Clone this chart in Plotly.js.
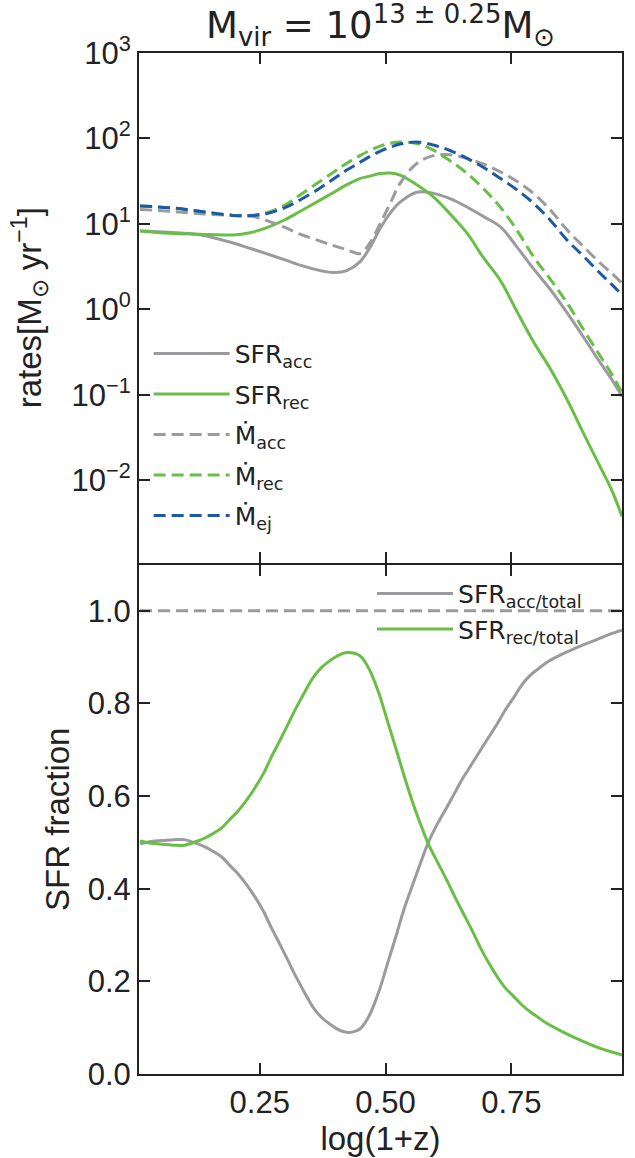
<!DOCTYPE html>
<html>
<head>
<meta charset="utf-8">
<script src="https://cdn.plot.ly/plotly-3.0.1.min.js"></script>
<style>html,body{margin:0;padding:0;background:#fff;}#chart{width:635px;height:1158px;}</style>
</head>
<body>
<div id="chart"></div>
<script>
// ---- data ----
const xRates = [0.012, 0.07, 0.13, 0.197, 0.23, 0.263, 0.30, 0.33, 0.37, 0.40, 0.423, 0.449, 0.469, 0.489, 0.51, 0.529, 0.562, 0.595, 0.628, 0.662, 0.695, 0.728, 0.761, 0.794, 0.828, 0.861, 0.894, 0.927, 0.95, 0.97];
const sfrAcc = [8.3, 8.0, 7.5, 6.0, 5.2, 4.5, 3.8, 3.3, 2.85, 2.7, 2.85, 3.6, 5.3, 8.8, 13.6, 18, 23.5, 22.8, 19.8, 15.8, 12.2, 9.3, 5.4, 3.0, 1.7, 0.91, 0.47, 0.237, 0.151, 0.096];
const sfrRec = [8.3, 7.8, 7.6, 7.45, 7.9, 9.0, 11.2, 14.0, 19.0, 24.0, 28.8, 34.0, 36.3, 38.9, 39.4, 37.3, 28.8, 20.8, 13.2, 7.8, 4.0, 2.2, 0.95, 0.42, 0.2, 0.088, 0.035, 0.0143, 0.0076, 0.0038];
const mdotAcc = [14.8, 14.1, 13.2, 12.6, 12.5, 11.0, 9.1, 7.6, 6.3, 5.5, 5.0, 4.5, 6.0, 10.0, 17.8, 29.9, 51, 63, 64.5, 58.5, 50, 40.8, 31.6, 22.8, 14.5, 8.5, 5.4, 3.47, 2.63, 2.03];
const mdotRec = [16.2, 15.5, 14.1, 12.6, 12.5, 13.5, 16.6, 21.8, 31.6, 41.7, 51.3, 63, 72.4, 81.3, 88, 91, 87.5, 73, 55, 39.1, 25.7, 15.8, 8.5, 4.15, 2.24, 1.19, 0.575, 0.283, 0.174, 0.106];
const mdotEj = [16.2, 15.5, 14.1, 12.6, 12.5, 13.2, 15.5, 19.1, 26.3, 34.7, 42.7, 52.5, 61.7, 70.8, 79.4, 86, 91.2, 83.8, 72.4, 58.5, 45.7, 34.2, 25.1, 17.5, 11.0, 6.46, 4.17, 2.63, 1.95, 1.48];

const xFrac = [0.012, 0.035, 0.057, 0.08, 0.10, 0.124, 0.14, 0.157, 0.175, 0.19, 0.207, 0.223, 0.24, 0.257, 0.273, 0.29, 0.307, 0.323, 0.34, 0.356, 0.373, 0.389, 0.406, 0.423, 0.436, 0.449, 0.459, 0.469, 0.479, 0.489, 0.505, 0.522, 0.538, 0.555, 0.57, 0.585, 0.603, 0.622, 0.638, 0.655, 0.672, 0.688, 0.705, 0.722, 0.738, 0.755, 0.771, 0.788, 0.805, 0.821, 0.854, 0.887, 0.92, 0.945, 0.97];
const fracAcc = [0.497, 0.502, 0.504, 0.506, 0.506, 0.498, 0.491, 0.481, 0.468, 0.451, 0.432, 0.410, 0.383, 0.352, 0.316, 0.280, 0.243, 0.208, 0.174, 0.144, 0.122, 0.108, 0.096, 0.090, 0.091, 0.097, 0.110, 0.129, 0.155, 0.185, 0.242, 0.302, 0.360, 0.412, 0.457, 0.500, 0.540, 0.576, 0.608, 0.641, 0.670, 0.698, 0.727, 0.756, 0.786, 0.813, 0.840, 0.861, 0.876, 0.889, 0.908, 0.924, 0.938, 0.949, 0.958];
const fracRec = [0.503, 0.498, 0.496, 0.494, 0.494, 0.502, 0.509, 0.519, 0.532, 0.549, 0.568, 0.590, 0.617, 0.648, 0.684, 0.720, 0.757, 0.792, 0.826, 0.856, 0.878, 0.892, 0.904, 0.910, 0.909, 0.903, 0.890, 0.871, 0.845, 0.815, 0.758, 0.698, 0.640, 0.583, 0.538, 0.497, 0.458, 0.418, 0.382, 0.346, 0.310, 0.274, 0.240, 0.210, 0.186, 0.167, 0.149, 0.134, 0.121, 0.109, 0.090, 0.073, 0.058, 0.049, 0.041];
const xTotal = [0.012, 0.97];
const fracTotal = [1.0, 1.0];

const yTickVals = [0.01, 0.1, 1, 10, 100, 1000];
const yTickText = ['10<sup>−2</sup>', '10<sup>−1</sup>', '10<sup>0</sup>', '10<sup>1</sup>', '10<sup>2</sup>', '10<sup>3</sup>'];
const fTickVals = [0, 0.2, 0.4, 0.6, 0.8, 1.0];
const fTickText = ['0.0', '0.2', '0.4', '0.6', '0.8', '1.0'];
const xTickVals = [0.25, 0.5, 0.75];
const xTickText = ['0.25', '0.50', '0.75'];

// ---- styling ----
const GRAY = '#9b9b9f', GREEN = '#69bf45', BLUE = '#1d58a9', INK = '#222222';
const DASH = '12px,6px';
const LW = 3;
const SANS = 'Liberation Sans, Arial, sans-serif';

const traces = [
  {x: xRates, y: sfrAcc, name: 'SFR<sub>acc</sub>', mode: 'lines', line: {color: GRAY, width: LW, shape: 'spline'}, xaxis: 'x', yaxis: 'y', legend: 'legend', legendgroup: 'a'},
  {x: xRates, y: sfrRec, name: 'SFR<sub>rec</sub>', mode: 'lines', line: {color: GREEN, width: LW, shape: 'spline'}, xaxis: 'x', yaxis: 'y', legend: 'legend', legendgroup: 'b'},
  {x: xRates, y: mdotAcc, name: 'Ṁ<sub>acc</sub>', mode: 'lines', line: {color: GRAY, width: LW, dash: DASH, shape: 'spline'}, xaxis: 'x', yaxis: 'y', legend: 'legend', legendgroup: 'c'},
  {x: xRates, y: mdotRec, name: 'Ṁ<sub>rec</sub>', mode: 'lines', line: {color: GREEN, width: LW, dash: DASH, shape: 'spline'}, xaxis: 'x', yaxis: 'y', legend: 'legend', legendgroup: 'd'},
  {x: xRates, y: mdotEj, name: 'Ṁ<sub>ej</sub>', mode: 'lines', line: {color: BLUE, width: LW, dash: DASH, shape: 'spline'}, xaxis: 'x', yaxis: 'y', legend: 'legend', legendgroup: 'e'},
  {x: xTotal, y: fracTotal, name: 'total', mode: 'lines', line: {color: GRAY, width: LW, dash: DASH}, xaxis: 'x2', yaxis: 'y2', showlegend: false},
  {x: xFrac, y: fracAcc, name: 'SFR<sub>acc/total</sub>', mode: 'lines', line: {color: GRAY, width: LW, shape: 'spline'}, xaxis: 'x2', yaxis: 'y2', legend: 'legend2'},
  {x: xFrac, y: fracRec, name: 'SFR<sub>rec/total</sub>', mode: 'lines', line: {color: GREEN, width: LW, shape: 'spline'}, xaxis: 'x2', yaxis: 'y2', legend: 'legend2'}
];

const axisCommon = {
  ticks: 'inside', ticklen: 11, tickwidth: 2, tickcolor: INK,
  showline: true, linewidth: 2, linecolor: INK, mirror: 'ticks',
  showgrid: false, zeroline: false, tickfont: {family: SANS, size: 31, color: INK}
};
const half = 1 / 1021;

const layout = {
  width: 635, height: 1158,
  margin: {l: 139, r: 13, t: 53, b: 84},
  paper_bgcolor: '#ffffff', plot_bgcolor: '#ffffff',
  font: {family: SANS, size: 31, color: INK},
  showlegend: true,
  title: {
    text: 'M<sub>vir</sub> = 10<sup>13 ± 0.25</sup>M<sub>⊙</sub>',
    font: {family: 'DejaVu Sans', size: 37, color: INK},
    xref: 'paper', x: 0.5, xanchor: 'center',
    yref: 'container', y: 0.978, yanchor: 'middle'
  },
  xaxis: Object.assign({}, axisCommon, {domain: [0, 1], anchor: 'y', range: [0.01, 0.97], tickvals: xTickVals, showticklabels: false}),
  yaxis: Object.assign({}, axisCommon, {
    domain: [0.5 + half, 1], anchor: 'x', type: 'log', range: [-2.96, 3],
    tickvals: yTickVals, ticktext: yTickText,
    title: {text: 'rates[M<sub>⊙</sub> yr<sup>−1</sup>]', font: {family: SANS, size: 33, color: INK}, standoff: 20}
  }),
  xaxis2: Object.assign({}, axisCommon, {
    domain: [0, 1], anchor: 'y2', range: [0.01, 0.97], tickvals: xTickVals, ticktext: xTickText,
    title: {text: 'log(1+z)', font: {family: SANS, size: 33, color: INK}, standoff: 4}
  }),
  yaxis2: Object.assign({}, axisCommon, {
    domain: [0, 0.5 - half], anchor: 'x2', range: [0, 1.1], tickvals: fTickVals, ticktext: fTickText,
    title: {text: 'SFR fraction', font: {family: SANS, size: 33, color: INK}, standoff: 8}
  }),
  legend: {
    x: 0.02, y: 0.728, xanchor: 'left', yanchor: 'top',
    bgcolor: 'rgba(0,0,0,0)', borderwidth: 0,
    font: {family: 'DejaVu Sans', size: 25, color: INK},
    traceorder: 'grouped', tracegroupgap: 5, itemwidth: 76
  },
  legend2: {
    x: 0.4825, y: 0.493, xanchor: 'left', yanchor: 'top',
    bgcolor: 'rgba(0,0,0,0)', borderwidth: 0,
    font: {family: 'DejaVu Sans', size: 25, color: INK},
    itemwidth: 76
  },
  hovermode: false
};

Plotly.newPlot('chart', traces, layout, {staticPlot: true, displayModeBar: false});
</script>
</body>
</html>
